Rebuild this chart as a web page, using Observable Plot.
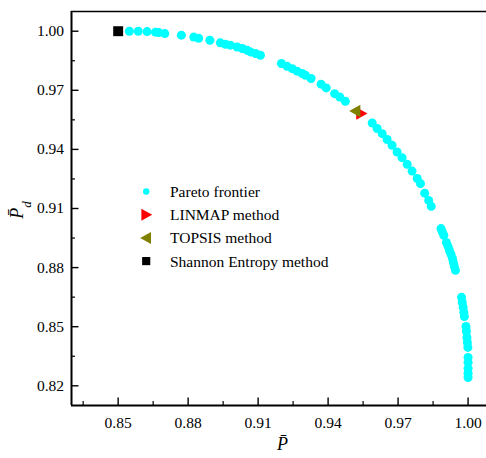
<!DOCTYPE html>
<html><head><meta charset="utf-8">
<script src="https://cdn.jsdelivr.net/npm/d3@7"></script>
<script src="https://cdn.jsdelivr.net/npm/@observablehq/plot@0.6"></script>
<style>body{margin:0;background:#fff}#chart{width:486px;height:458px}</style>
</head><body><div id="chart"></div>
<script>
// Pareto frontier points (P̄, P̄d)
const paretoX = [0.8548,0.8586,0.8624,0.8660,0.8674,0.8700,0.8771,0.8824,0.8845,0.8893,0.8938,0.8960,0.8981,0.9010,0.9032,0.9053,0.9067,0.9089,0.9110,
0.9200,0.9224,0.9246,0.9267,0.9289,0.9303,0.9327,0.9370,0.9392,0.9428,0.9450,0.9474,
0.9589,0.9610,0.9632,0.9653,0.9674,0.9696,0.9717,0.9739,0.9760,0.9782,0.9796,0.9814,0.9831,0.9842,
0.9884,0.9889,0.9896,
0.9907,0.9914,0.9920,0.9927,0.9933,0.9937,0.9941,0.9946,
0.9972,0.9975,0.9979,0.9982,0.9984,
0.9991,0.9993,0.9995,0.9997,0.9999,
1.0000,1.0000,1.0000,1.0000,1.0000];
const paretoY = [1.0000,1.0000,0.9998,0.9995,0.9993,0.9988,0.9980,0.9970,0.9964,0.9954,0.9941,0.9934,0.9929,0.9920,0.9912,0.9903,0.9895,0.9887,0.9878,
0.9836,0.9822,0.9810,0.9797,0.9785,0.9776,0.9760,0.9731,0.9712,0.9683,0.9666,0.9644,
0.9534,0.9506,0.9480,0.9450,0.9421,0.9387,0.9358,0.9324,0.9290,0.9252,0.9226,0.9178,0.9141,0.9111,
0.8998,0.8982,0.8964,
0.8928,0.8908,0.8887,0.8867,0.8846,0.8826,0.8806,0.8786,
0.8649,0.8623,0.8598,0.8572,0.8552,
0.8501,0.8476,0.8445,0.8420,0.8395,
0.8344,0.8319,0.8288,0.8263,0.8242];

// Decision-making methods
const methodNames = ["LINMAP method", "TOPSIS method", "Shannon Entropy method"];
const methodX = [0.9542, 0.9517, 0.8500];
const methodY = [0.9582, 0.9595, 1.0000];

const legendLabels = ["Pareto frontier", "LINMAP method", "TOPSIS method", "Shannon Entropy method"];

const xTicks = [0.85, 0.88, 0.91, 0.94, 0.97, 1.00];
const xMinor = [0.835, 0.865, 0.895, 0.925, 0.955, 0.985];
const yTicks = [0.82, 0.85, 0.88, 0.91, 0.94, 0.97, 1.00];
const yMinor = [0.835, 0.865, 0.895, 0.925, 0.955, 0.985];
const xDomain = [0.83, 1.0079];
const yDomain = [0.81, 1.01];

const serif = "'Liberation Serif', 'Times New Roman', serif";
const colors = {pareto: "#00FFFF", linmap: "#FF0000", topsis: "#808000", shannon: "#000000"};

const triRight = {draw(ctx, size) { const r = Math.sqrt(size / Math.PI); ctx.moveTo(r, 0); ctx.lineTo(-0.8 * r, -r); ctx.lineTo(-0.8 * r, r); ctx.closePath(); }};
const triLeft = {draw(ctx, size) { const r = Math.sqrt(size / Math.PI); ctx.moveTo(-r, 0); ctx.lineTo(0.8 * r, -r); ctx.lineTo(0.8 * r, r); ctx.closePath(); }};

const pareto = paretoX.map((x, i) => ({x, y: paretoY[i]}));
const methods = methodNames.map((name, i) => ({name, x: methodX[i], y: methodY[i]}));

const methodStyle = {
  "LINMAP method": {symbol: triRight, fill: colors.linmap, r: 6.2},
  "TOPSIS method": {symbol: triLeft, fill: colors.topsis, r: 6.2},
  "Shannon Entropy method": {symbol: "square", fill: colors.shannon, r: 5.6}
};
const legendStyle = [
  {symbol: "circle", fill: colors.pareto, r: 3.2},
  {symbol: triRight, fill: colors.linmap, r: 6},
  {symbol: triLeft, fill: colors.topsis, r: 6},
  {symbol: "square", fill: colors.shannon, r: 4.6}
];

const legendMarks = legendLabels.flatMap((label, i) => [
  Plot.dot([label], {frameAnchor: "top-left", dx: 74.7, dy: 180 + i * 23.2, symbol: legendStyle[i].symbol, fill: legendStyle[i].fill, r: legendStyle[i].r, stroke: "none"}),
  Plot.text([label], {frameAnchor: "top-left", lineAnchor: "middle", dx: 98.5, dy: 180.5 + i * 23.2, text: d => d, textAnchor: "start", fontSize: 15.5, fontFamily: serif, fill: "#000"})
]);

const chart = Plot.plot({
  width: 486, height: 458,
  marginLeft: 71, marginRight: 0, marginTop: 11, marginBottom: 53,
  style: {fontFamily: serif, background: "#fff", color: "#000"},
  x: {domain: xDomain},
  y: {domain: yDomain},
  marks: [
    Plot.axisX(xTicks, {tickSize: -7.5, tickFormat: () => "", label: null, strokeWidth: 1.4}),
    Plot.axisX(xMinor, {tickSize: -4, tickFormat: () => "", label: null, strokeWidth: 1.2}),
    Plot.axisX(xTicks, {tickSize: 0, tickPadding: 11, tickFormat: d3.format(".2f"), fontSize: 15.5, fontFamily: serif, label: null}),
    Plot.axisY(yTicks, {tickSize: -7.5, tickFormat: () => "", label: null, strokeWidth: 1.4}),
    Plot.axisY(yMinor, {tickSize: -4, tickFormat: () => "", label: null, strokeWidth: 1.2}),
    Plot.axisY(yTicks, {tickSize: 0, tickPadding: 7.5, tickFormat: d3.format(".2f"), fontSize: 15.5, fontFamily: serif, label: null}),
    Plot.ruleX([xDomain[0]], {stroke: "#000", strokeWidth: 2}),
    Plot.ruleY([yDomain[0]], {stroke: "#000", strokeWidth: 2}),
    Plot.ruleY([yDomain[1]], {stroke: "#000", strokeWidth: 1.6}),
    Plot.dot(pareto, {x: "x", y: "y", r: 4.5, fill: colors.pareto, stroke: "none"}),
    ...methods.map(m => Plot.dot([m], {x: "x", y: "y", stroke: "none", ...methodStyle[m.name]})),
    ...legendMarks,
    Plot.text(["P\u0304"], {frameAnchor: "bottom", dx: 3.5, dy: 44, fontSize: 18, fontStyle: "italic", fontFamily: serif, fill: "#000"})
  ]
});

// y-axis title with subscript
const svg = d3.select(chart);
const yt = svg.append("text")
  .attr("transform", "translate(23,210) rotate(-90)")
  .attr("text-anchor", "middle")
  .attr("font-family", serif)
  .attr("font-size", 18)
  .attr("fill", "#000");
yt.append("tspan").attr("font-style", "italic").text("P\u0304");
yt.append("tspan").attr("font-style", "italic").attr("font-size", 13).attr("baseline-shift", "sub").text("d");

document.getElementById("chart").appendChild(chart);
</script>
</body></html>
